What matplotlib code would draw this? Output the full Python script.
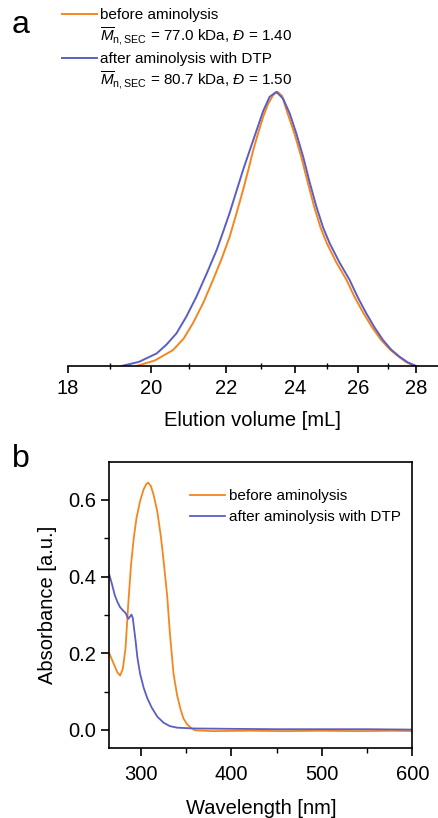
"""SEC traces (a) and UV-vis spectra (b) before / after aminolysis."""
import matplotlib
matplotlib.use("Agg")
import matplotlib.pyplot as plt
from matplotlib.lines import Line2D
from matplotlib.ticker import FixedLocator, NullFormatter, FixedFormatter, MultipleLocator

plt.rcParams["font.family"] = ["Liberation Sans", "DejaVu Sans"]
plt.rcParams["mathtext.fontset"] = "custom"
plt.rcParams["mathtext.rm"] = "Liberation Sans"
plt.rcParams["mathtext.it"] = "Liberation Sans:italic"

ORANGE = "#F5861F"
BLUE = "#5B5EC2"

# --- panel a: SEC, normalised RI signal vs elution volume
sec_before_x = [19.64, 20.1, 20.57, 20.85, 21.10, 21.38, 21.64, 21.88, 22.10, 22.30, 22.48,
                22.63, 22.77, 22.92, 23.06, 23.20, 23.35, 23.48, 23.62, 23.79, 24.0,
                24.20, 24.40, 24.60, 24.80, 25.0, 25.30, 25.63, 25.90, 26.19, 26.48,
                26.78, 27.08, 27.38, 27.65, 27.93]
sec_before_y = [0.0, 0.02, 0.058, 0.10, 0.157, 0.232, 0.314, 0.392, 0.471, 0.560, 0.642,
                0.715, 0.787, 0.852, 0.909, 0.955, 0.988, 1.0, 0.985, 0.92, 0.845,
                0.763, 0.670, 0.581, 0.505, 0.447, 0.378, 0.314, 0.250, 0.192, 0.140,
                0.095, 0.060, 0.034, 0.014, 0.0]
sec_after_x = [19.27, 19.7, 20.15, 20.40, 20.66, 20.92, 21.19, 21.46, 21.74, 21.92, 22.10,
               22.29, 22.48, 22.68, 22.87, 23.06, 23.25, 23.45, 23.65, 23.85, 24.05,
               24.26, 24.46, 24.67, 24.88, 25.09, 25.40, 25.73, 26.0, 26.28, 26.56,
               26.84, 27.12, 27.41, 27.70, 28.0]
sec_after_y = [0.0, 0.015, 0.046, 0.078, 0.119, 0.180, 0.253, 0.335, 0.423, 0.490, 0.558,
               0.637, 0.715, 0.790, 0.860, 0.930, 0.982, 1.0, 0.975, 0.921, 0.848,
               0.763, 0.670, 0.581, 0.505, 0.447, 0.378, 0.314, 0.250, 0.192, 0.140,
               0.095, 0.060, 0.034, 0.013, 0.0]
sec_ticks = [18, 20, 22, 24, 26, 28]
sec_minor = [19, 21, 23, 25, 27]

# --- panel b: UV-vis absorbance vs wavelength
uv_before_x = [265, 270, 274, 277, 280, 283, 286, 289, 292, 295, 299, 303, 306, 308,
               311, 314, 318, 322, 325, 329, 332, 336, 340, 344, 347, 351, 356, 360,
               380, 420, 460, 500, 540, 580, 600]
uv_before_y = [0.200, 0.172, 0.150, 0.142, 0.160, 0.215, 0.330, 0.430, 0.500, 0.552, 0.597,
               0.628, 0.642, 0.645, 0.636, 0.613, 0.571, 0.505, 0.442, 0.350, 0.252,
               0.147, 0.090, 0.052, 0.030, 0.015, 0.004, -0.001, -0.003, -0.002,
               -0.003, -0.002, -0.003, -0.002, -0.003]
uv_after_x = [265, 268, 271, 274, 277, 280, 283, 286, 288, 289.5, 291, 292.5, 294, 296,
              299, 303, 307, 312, 318, 325, 332, 340, 358, 400, 450, 500, 550, 600]
uv_after_y = [0.405, 0.380, 0.352, 0.334, 0.320, 0.312, 0.305, 0.290, 0.296, 0.301, 0.292,
              0.262, 0.234, 0.190, 0.147, 0.110, 0.083, 0.058, 0.035, 0.019, 0.010,
              0.006, 0.004, 0.003, 0.002, 0.002, 0.002, 0.001]

W, H = 438, 818
fig = plt.figure(figsize=(W / 100, H / 100), dpi=100)


def px(x, y):
    return x / W, 1 - y / H


FS = 14.5
fs_leg = 11

# ---------------- panel a
ax_a = fig.add_axes([67.7 / W, (H - 366) / H, (W - 67.7) / W, (366 - 85) / H])
ax_a.plot(sec_before_x, sec_before_y, color=ORANGE, lw=1.4)
ax_a.plot(sec_after_x, sec_after_y, color=BLUE, lw=1.4)
ax_a.set_xscale("log")
ax_a.set_xlim(18, 28.78)
ax_a.set_ylim(0, 1.025)
for s in ("top", "right", "left"):
    ax_a.spines[s].set_visible(False)
ax_a.spines["bottom"].set_linewidth(1.2)
ax_a.set_yticks([])
ax_a.xaxis.set_major_locator(FixedLocator(sec_ticks))
ax_a.xaxis.set_major_formatter(FixedFormatter([str(t) for t in sec_ticks]))
ax_a.xaxis.set_minor_locator(FixedLocator(sec_minor))
ax_a.xaxis.set_minor_formatter(NullFormatter())
ax_a.tick_params(axis="x", which="major", direction="out", length=5, width=1.2,
                 labelsize=FS, pad=4)
ax_a.tick_params(axis="x", which="minor", direction="inout", length=5, width=1.0)
ax_a.set_xlabel("Elution volume [mL]", fontsize=FS, labelpad=10)

# manual legend for panel a
for yl, col in ((14, ORANGE), (58, BLUE)):
    fig.add_artist(Line2D([62 / W, 97 / W], [1 - yl / H] * 2, color=col, lw=1.4))
texts_a = [
    (15, "before aminolysis"),
    (36, r"$\overline{M}_{\mathrm{n,SEC}}$ = 77.0 kDa, $Đ$ = 1.40"),
    (59, "after aminolysis with DTP"),
    (80, r"$\overline{M}_{\mathrm{n,SEC}}$ = 80.7 kDa, $Đ$ = 1.50"),
]
for yl, t in texts_a:
    fig.text(*px(100, yl), t, fontsize=fs_leg, va="center", ha="left")
fig.text(*px(12, 33), "a", fontsize=23, va="baseline", ha="left")

# ---------------- panel b
ax_b = fig.add_axes([109.3 / W, (H - 748) / H, (412.3 - 109.3) / W, (748 - 462) / H])
ax_b.plot(uv_before_x, uv_before_y, color=ORANGE, lw=1.3, label="before aminolysis")
ax_b.plot(uv_after_x, uv_after_y, color=BLUE, lw=1.3, label="after aminolysis with DTP")
ax_b.set_xlim(265, 600)
ax_b.set_ylim(-0.047, 0.699)
ax_b.xaxis.set_major_locator(MultipleLocator(100))
ax_b.xaxis.set_minor_locator(MultipleLocator(50))
ax_b.yaxis.set_major_locator(FixedLocator([0.0, 0.2, 0.4, 0.6]))
ax_b.yaxis.set_major_formatter(FixedFormatter(["0.0", "0.2", "0.4", "0.6"]))
ax_b.yaxis.set_minor_locator(FixedLocator([0.1, 0.3, 0.5]))
for s in ax_b.spines.values():
    s.set_linewidth(1.2)
ax_b.tick_params(which="major", direction="out", length=6, width=1.2, labelsize=FS)
ax_b.tick_params(axis="x", which="major", pad=6)
ax_b.tick_params(which="minor", direction="out", length=3.5, width=1.0)
ax_b.set_xlabel("Wavelength [nm]", fontsize=FS, labelpad=11)
ax_b.set_ylabel("Absorbance [a.u.]", fontsize=FS, labelpad=8)
ax_b.legend(loc="upper left", bbox_to_anchor=(0.266, 0.905), frameon=False,
            fontsize=fs_leg, handlelength=2.3, handletextpad=0.25,
            borderpad=0, borderaxespad=0, labelspacing=0.45)
fig.text(*px(12, 467), "b", fontsize=23, va="baseline", ha="left")

fig.savefig("out.png", dpi=100)
